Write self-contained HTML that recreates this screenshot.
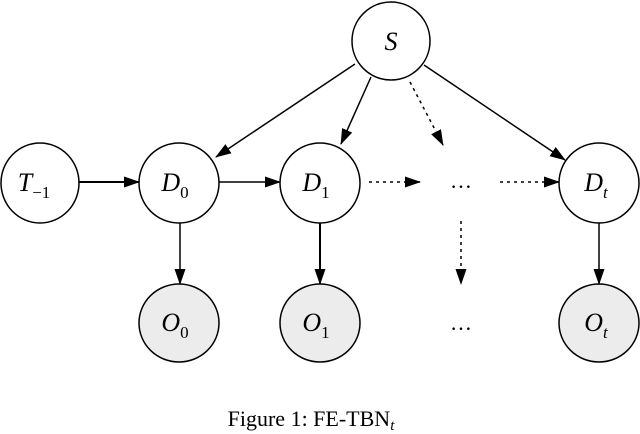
<!DOCTYPE html>
<html><head><meta charset="utf-8"><style>
html,body{margin:0;padding:0;background:#fff;}
svg{display:block;}
text{font-family:"Liberation Serif",serif;}
</style></head><body>
<svg width="640" height="434" viewBox="0 0 640 434" xmlns="http://www.w3.org/2000/svg">
<defs>
<marker id="a" markerWidth="16" markerHeight="11" refX="15" refY="5.5" orient="auto" markerUnits="userSpaceOnUse">
<path d="M0,0 L16,5.5 L0,11 z" fill="#000"/></marker>
</defs>
<g fill="none" stroke="#000" stroke-width="1.5">
<ellipse cx="391" cy="41" rx="39" ry="39" fill="#fff"/>
<ellipse cx="40" cy="183" rx="39" ry="40" fill="#fff"/>
<ellipse cx="179" cy="183" rx="40" ry="40" fill="#fff"/>
<ellipse cx="320" cy="183" rx="40" ry="40" fill="#fff"/>
<ellipse cx="599" cy="183" rx="40" ry="40" fill="#fff"/>
<ellipse cx="179" cy="323" rx="40" ry="39" fill="#ececec"/>
<ellipse cx="320" cy="323" rx="40" ry="39" fill="#ececec"/>
<ellipse cx="599" cy="323" rx="40" ry="39" fill="#ececec"/>
</g>
<g stroke="#000" stroke-width="1.5" fill="none" marker-end="url(#a)">
<line x1="355" y1="64" x2="216" y2="157"/>
<line x1="371" y1="77" x2="341" y2="144"/>
<line x1="410" y1="82" x2="443" y2="145" stroke-dasharray="3,4"/>
<line x1="424" y1="65" x2="565" y2="160"/>
<line x1="79" y1="182" x2="139" y2="182" stroke-width="2"/>
<line x1="219" y1="182" x2="280" y2="182"/>
<line x1="369" y1="182" x2="420" y2="182" stroke-dasharray="3,4"/>
<line x1="500" y1="182" x2="559" y2="182" stroke-dasharray="3,4"/>
<line x1="180" y1="223" x2="180" y2="284"/>
<line x1="320" y1="223" x2="320" y2="284" stroke-width="2"/>
<line x1="461" y1="221" x2="461" y2="284" stroke-dasharray="3,4"/>
<line x1="599" y1="223" x2="599" y2="284"/>
</g>
<g font-style="italic" font-size="26" text-anchor="middle">
<text x="391" y="50">S</text>
<text x="34" y="191">T<tspan font-style="normal" font-size="17" dy="7">−1</tspan></text>
<text x="175" y="191">D<tspan font-style="normal" font-size="17" dy="7">0</tspan></text>
<text x="316" y="191">D<tspan font-style="normal" font-size="17" dy="7">1</tspan></text>
<text x="596" y="191">D<tspan font-size="17" dy="7">t</tspan></text>
<text x="175" y="331">O<tspan font-style="normal" font-size="17" dy="7">0</tspan></text>
<text x="316" y="331">O<tspan font-style="normal" font-size="17" dy="7">1</tspan></text>
<text x="596" y="331">O<tspan font-size="17" dy="7">t</tspan></text>
</g>
<text x="461" y="188" font-size="22" text-anchor="middle">…</text>
<text x="461" y="330" font-size="22" text-anchor="middle">…</text>
<text x="311" y="426" font-size="22" text-anchor="middle">Figure 1: FE-TBN<tspan font-style="italic" font-size="15" dy="4">t</tspan></text>
</svg>
</body></html>
